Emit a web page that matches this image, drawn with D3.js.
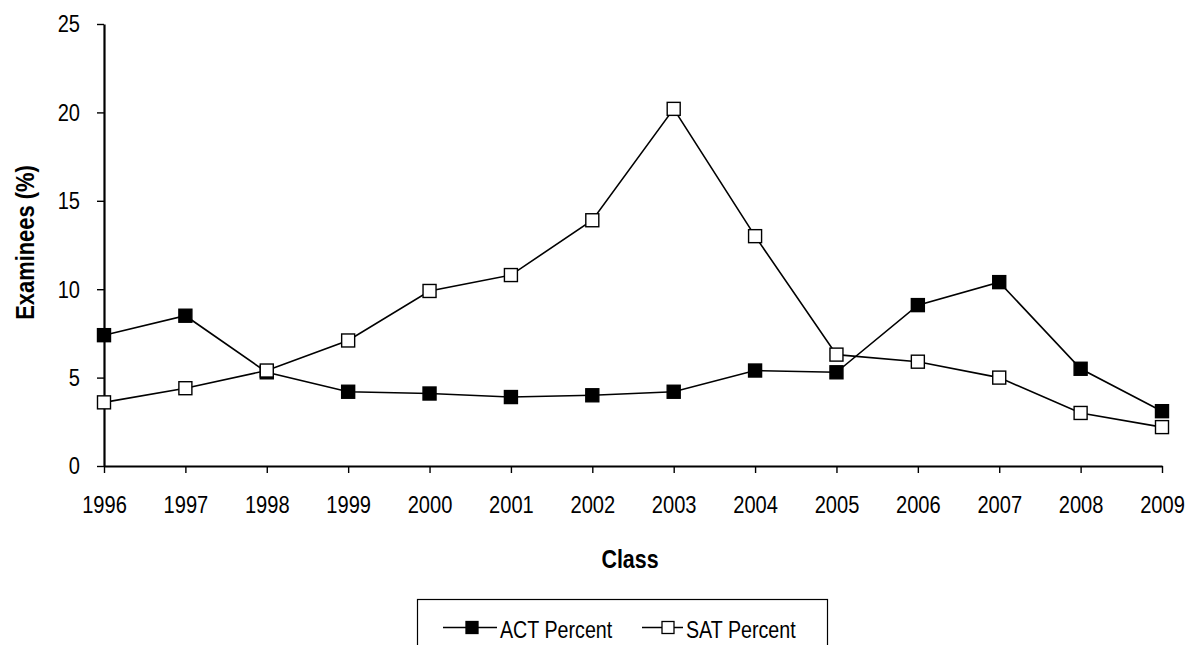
<!DOCTYPE html>
<html><head><meta charset="utf-8">
<script src="https://cdn.jsdelivr.net/npm/d3@7"></script>
<style>
html,body{margin:0;padding:0;background:#fff;}
svg text{font-family:"Liberation Sans",Arial,sans-serif;fill:#000;}
</style></head>
<body>
<svg id="chart" width="1186" height="645"></svg>
<script>
const years = [1996,1997,1998,1999,2000,2001,2002,2003,2004,2005,2006,2007,2008,2009];
const actPercent = [7.4,8.5,5.3,4.2,4.1,3.9,4.0,4.2,5.4,5.3,9.1,10.4,5.5,3.1];
const satPercent = [3.6,4.4,5.4,7.1,9.9,10.8,13.9,20.2,13.0,6.3,5.9,5.0,3.0,2.2];
const yTicks = [0,5,10,15,20,25];
const seriesNames = ["ACT Percent","SAT Percent"];

const svg = d3.select("#chart");
const mLeft = 104, mRight = 1162, mTop = 24, mBottom = 466;
const NARROW = 0.82;

const x = d3.scalePoint().domain(years).range([mLeft, mRight]);
const y = d3.scaleLinear().domain([0,25]).range([mBottom, mTop]);

// emulate a narrow face: scale each label horizontally about its own anchor
function narrowTick(sel, f){
  sel.each(function(){
    const t = d3.select(this);
    const x0 = +t.attr("x") || 0;
    t.attr("x", x0 / f).attr("transform", `scale(${f},1)`);
  });
}

// axes
const yAxis = svg.append("g").attr("transform",`translate(${mLeft},0)`)
  .call(d3.axisLeft(y).tickValues(yTicks).tickSize(7).tickSizeOuter(0).tickPadding(17));
const xAxis = svg.append("g").attr("transform",`translate(0,${mBottom})`)
  .call(d3.axisBottom(x).tickSize(7).tickSizeOuter(0).tickPadding(23));
[yAxis,xAxis].forEach(a=>{
  a.select(".domain").attr("stroke","#000").attr("stroke-width",2.2);
  a.selectAll(".tick line").attr("stroke","#000").attr("stroke-width",1.4);
  a.selectAll(".tick text").style("font-size","24.5px").attr("fill","#000");
  narrowTick(a.selectAll(".tick text"), NARROW);
});

// axis titles
svg.append("text").attr("transform",`translate(33.5,242.5) rotate(-90) scale(0.86,1)`)
  .attr("text-anchor","middle").style("font-size","25.5px").style("font-weight","bold")
  .text("Examinees (%)");
svg.append("text").attr("transform",`translate(630,568) scale(0.84,1)`).attr("text-anchor","middle")
  .style("font-size","25.5px").style("font-weight","bold").text("Class");

// lines
const line = d3.line().x((d,i)=>x(years[i])).y(d=>y(d));
const series = [
  {name:seriesNames[0], values:actPercent, fill:"#000"},
  {name:seriesNames[1], values:satPercent, fill:"#fff"}
];
series.forEach(s=>{
  svg.append("path").datum(s.values).attr("d",line)
    .attr("fill","none").attr("stroke","#000").attr("stroke-width",1.6);
});
const ms = 13;
series.forEach(s=>{
  svg.append("g").selectAll("rect").data(s.values).join("rect")
    .attr("x",(d,i)=>x(years[i])-ms/2).attr("y",d=>y(d)-ms/2)
    .attr("width",ms).attr("height",ms)
    .attr("fill",s.fill).attr("stroke","#000").attr("stroke-width",1.4);
});

// legend
svg.append("rect").attr("x",417.5).attr("y",599.5).attr("width",410).attr("height",60)
  .attr("fill","#fff").attr("stroke","#000").attr("stroke-width",1.2);
const legendItems = [
  {x0:443, x1:497, cx:472, tx:500, s:series[0]},
  {x0:642, x1:683, cx:668, tx:686, s:series[1]}
];
legendItems.forEach(l=>{
  svg.append("line").attr("x1",l.x0).attr("x2",l.x1).attr("y1",627.5).attr("y2",627.5)
    .attr("stroke","#000").attr("stroke-width",1.6);
  svg.append("rect").attr("x",l.cx-6).attr("y",621.5).attr("width",12).attr("height",12)
    .attr("fill",l.s.fill).attr("stroke","#000").attr("stroke-width",1.3);
  svg.append("text").attr("transform",`translate(${l.tx},638) scale(${NARROW},1)`)
    .style("font-size","24px").text(l.s.name);
});
</script>
</body></html>
